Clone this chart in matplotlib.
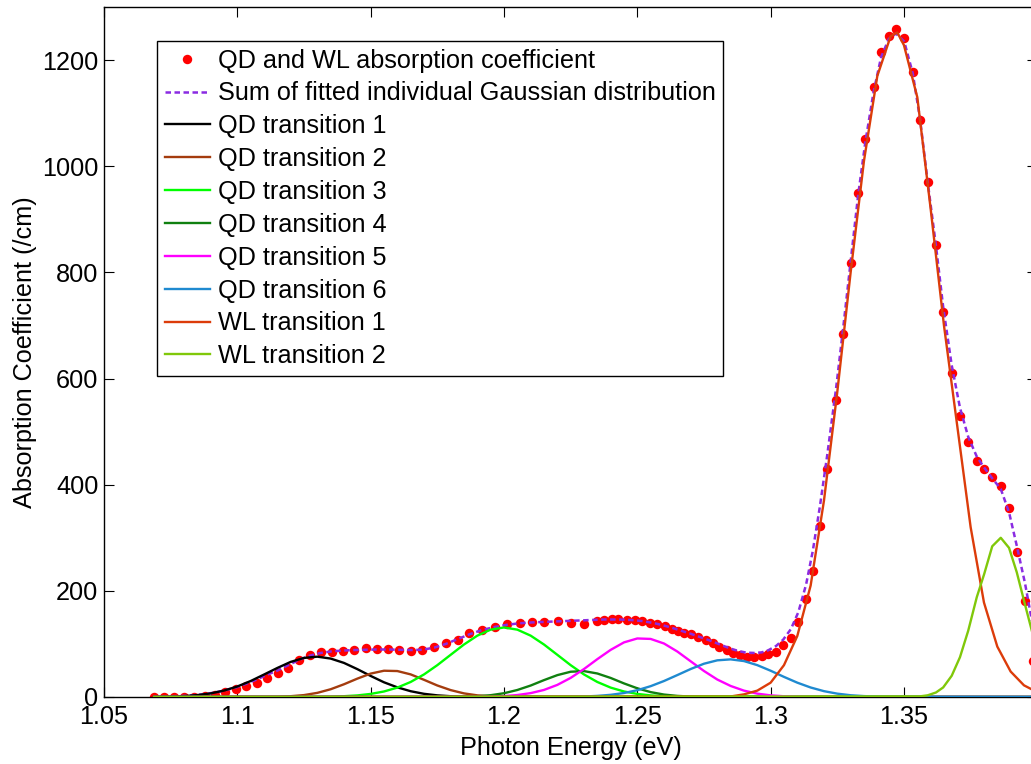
import matplotlib
matplotlib.use("Agg")
import matplotlib.pyplot as plt
from matplotlib.ticker import FuncFormatter

plt.rcParams['font.family'] = ['Liberation Sans', 'DejaVu Sans']

# Measured absorption spectrum (photon energy in eV, absorption in /cm)
energy = [1.0688, 1.0725, 1.0763, 1.0800, 1.0838, 1.0879, 1.0916, 1.0954, 1.0994, 1.1033,
          1.1073, 1.1112, 1.1151, 1.1191, 1.1232, 1.1273, 1.1313, 1.1354, 1.1395, 1.1438,
          1.1481, 1.1523, 1.1566, 1.1607, 1.1650, 1.1694, 1.1738, 1.1782, 1.1826, 1.1870,
          1.1916, 1.1966, 1.2010, 1.2060, 1.2104, 1.2150, 1.2201, 1.2250, 1.2300, 1.2348,
          1.2375, 1.2404, 1.2429, 1.2460, 1.2491, 1.2519, 1.2548, 1.2573, 1.2604, 1.2629,
          1.2654, 1.2676, 1.2701, 1.2729, 1.2758, 1.2785, 1.2807, 1.2835, 1.2860, 1.2885,
          1.2910, 1.2938, 1.2966, 1.2991, 1.3020, 1.3047, 1.3076, 1.3104, 1.3133, 1.3158,
          1.3185, 1.3212, 1.3245, 1.3272, 1.3300, 1.3328, 1.3355, 1.3386, 1.3414, 1.3443,
          1.3470, 1.3501, 1.3533, 1.3560, 1.3589, 1.3620, 1.3647, 1.3679, 1.3710, 1.3741,
          1.3773, 1.3801, 1.3831, 1.3863, 1.3894, 1.3923, 1.3954, 1.3983]

absorption = [0, 0, 0, 0, 0.5, 1, 4, 9, 16, 20,
              26, 35, 45, 55, 69, 79, 85, 85, 87, 88,
              92, 91, 91, 89, 87, 88, 94, 101, 108, 120,
              126, 131, 137, 138.5, 141.5, 141, 143, 140, 137, 143,
              146, 147, 147, 146, 145, 143, 140, 137, 133, 129,
              124.5, 121.5, 118, 113, 108, 102, 94, 89, 83, 79,
              75.5, 75.5, 77, 81, 85, 98, 112, 141, 184, 237,
              323, 429, 560, 684, 818, 950, 1052, 1149, 1215, 1245,
              1258, 1242, 1177, 1088, 970, 852, 725, 611, 530, 481,
              445, 429, 415, 398, 356, 273, 181, 67]

# Sum of the fitted Gaussian components, evaluated at the measured energies
fit_sum = [0.5, 1, 1.5, 2, 3.5, 5.5, 8.5, 12.5, 18, 25,
           33, 42, 50, 60, 70, 78, 83, 86, 87.5, 88.5,
           89, 89.5, 89.5, 89, 88.5, 89, 93, 100, 109, 118,
           126, 132, 136, 139, 140.5, 141.5, 142.5, 143.5, 144.5, 145.5,
           146, 146, 146, 145.5, 144.5, 143, 140.5, 138, 134, 130.5,
           126.5, 123, 119, 114, 109, 104, 99.5, 94, 89.5, 86,
           83.5, 83, 84, 88, 96, 108, 128, 160, 212, 275,
           360, 455, 580, 695, 820, 945, 1045, 1140, 1205, 1240,
           1250, 1235, 1175, 1090, 970, 850, 735, 625, 545, 490,
           453, 432, 412, 392, 348, 285, 214, 135]

# Individual fitted transitions
qd1_e = [1.0688, 1.070, 1.075, 1.080, 1.085, 1.090, 1.095, 1.100, 1.105, 1.110, 1.115,
         1.120, 1.125, 1.130, 1.135, 1.140, 1.145, 1.150, 1.155, 1.160, 1.165, 1.170,
         1.175, 1.180, 1.185, 1.190, 1.400]
qd1_v = [0.2, 0.3, 0.8, 1.7, 3.6, 6.8, 12.1, 19.8, 30.1, 42.3, 54.7,
         66.1, 73.6, 76, 72.4, 64.2, 52.5, 39.7, 27.7, 18.2, 10.9, 6.0,
         3.1, 1.5, 0.7, 0.3, 0]

qd2_e = [1.0688, 1.115, 1.120, 1.125, 1.130, 1.135, 1.140, 1.145, 1.150, 1.155, 1.160,
         1.165, 1.170, 1.175, 1.180, 1.185, 1.190, 1.195, 1.200, 1.400]
qd2_v = [0, 0.6, 1.5, 3.6, 7.8, 14.6, 24, 34.6, 44.1, 49.5, 48.9,
         42.6, 32.4, 21.7, 13, 6.8, 3.1, 1.3, 0.5, 0]

qd3_e = [1.0688, 1.130, 1.135, 1.140, 1.145, 1.150, 1.155, 1.160, 1.165, 1.170, 1.175,
         1.180, 1.185, 1.190, 1.195, 1.200, 1.205, 1.210, 1.215, 1.220, 1.225, 1.230,
         1.235, 1.240, 1.245, 1.250, 1.255, 1.260, 1.265, 1.270, 1.400]
qd3_v = [0, 0.3, 0.7, 1.5, 3.0, 5.8, 10.4, 17.7, 28.3, 42.5, 60,
         79.5, 98.9, 115.6, 126.9, 131, 126.9, 115.6, 98.9, 79.5, 60, 42.5,
         28.3, 17.7, 10.4, 5.8, 3.0, 1.5, 0.7, 0.3, 0]

qd4_e = [1.0688, 1.180, 1.185, 1.190, 1.195, 1.200, 1.205, 1.210, 1.215, 1.220, 1.225,
         1.230, 1.235, 1.240, 1.245, 1.250, 1.255, 1.260, 1.265, 1.270, 1.275, 1.400]
qd4_v = [0, 0.2, 0.5, 1.4, 3.4, 7.1, 13.2, 21.6, 31.8, 41.2, 47.6,
         48.8, 44.3, 35.9, 25.6, 16.4, 9.2, 4.6, 2.1, 0.8, 0.3, 0]

qd5_e = [1.0688, 1.190, 1.195, 1.200, 1.205, 1.210, 1.215, 1.220, 1.225, 1.230, 1.235,
         1.240, 1.245, 1.250, 1.255, 1.260, 1.265, 1.270, 1.275, 1.280, 1.285, 1.290,
         1.295, 1.300, 1.305, 1.310, 1.315, 1.400]
qd5_v = [0, 0.3, 0.7, 1.7, 3.7, 7.3, 13.3, 22.8, 36, 52.7, 71.3,
         88.8, 102.9, 110.3, 109.4, 100.8, 85.7, 67.3, 49, 32.9, 20.8, 12,
         6.3, 3.1, 1.4, 0.6, 0.2, 0]

qd6_e = [1.0688, 1.220, 1.225, 1.230, 1.235, 1.240, 1.245, 1.250, 1.255, 1.260, 1.265,
         1.270, 1.275, 1.280, 1.285, 1.290, 1.295, 1.300, 1.305, 1.310, 1.315, 1.320,
         1.325, 1.330, 1.335, 1.340, 1.345, 1.400]
qd6_v = [0, 0.2, 0.4, 0.9, 2.1, 4.1, 7.5, 12.8, 20.4, 30.1, 41.3,
         52.7, 62.7, 69.1, 70.9, 67.7, 60, 49.5, 37.9, 27, 17.9, 11,
         6.3, 3.3, 1.7, 0.8, 0.3, 0]

wl1_e = [1.0688, 1.285, 1.290, 1.295, 1.300, 1.305, 1.310, 1.315, 1.320, 1.325, 1.330,
         1.335, 1.340, 1.345, 1.3475, 1.350, 1.355, 1.360, 1.365, 1.370, 1.375, 1.380,
         1.385, 1.390, 1.395, 1.400]
wl1_v = [0, 1, 5, 12, 27, 60, 115, 210, 370, 575, 800,
         1010, 1170, 1245, 1252, 1228, 1130, 920, 700, 510, 320, 178,
         95, 48, 22, 9]

wl2_e = [1.0688, 1.3560, 1.3589, 1.3620, 1.3647, 1.3679, 1.3710, 1.3741, 1.3773, 1.3801,
         1.3831, 1.3863, 1.3894, 1.3923, 1.3954, 1.3983, 1.4012]
wl2_v = [0, 1.2, 3.2, 8.5, 18, 40, 75, 125, 188, 232,
         284, 300, 281, 235, 174, 118, 72]

components = [
    ("QD transition 1", qd1_e, qd1_v, "#000000"),
    ("QD transition 2", qd2_e, qd2_v, "#a43c0e"),
    ("QD transition 3", qd3_e, qd3_v, "#00ff00"),
    ("QD transition 4", qd4_e, qd4_v, "#108010"),
    ("QD transition 5", qd5_e, qd5_v, "#ff00ff"),
    ("QD transition 6", qd6_e, qd6_v, "#1f8ad0"),
    ("WL transition 1", wl1_e, wl1_v, "#dc3c0a"),
    ("WL transition 2", wl2_e, wl2_v, "#80c80a"),
]

x_ticks = [1.05, 1.1, 1.15, 1.2, 1.25, 1.3, 1.35]
y_ticks = [0, 200, 400, 600, 800, 1000, 1200]

FS = 18.2
W, H = 1031, 764
fig = plt.figure(figsize=(W / 100, H / 100), dpi=100)
ax = fig.add_axes([104 / W, 67 / H, 933.3 / W, 690 / H])

ax.plot(energy, absorption, linestyle="none", marker="o", markersize=6.8,
        color="#ff0000", markeredgewidth=0, label="QD and WL absorption coefficient", zorder=2)
ax.plot(energy, fit_sum, color="#8a2be2", linewidth=1.8, dashes=(2.2, 1.4),
        label="Sum of fitted individual Gaussian distribution", zorder=3)
for name, xs, ys, col in components:
    ax.plot(xs, ys, color=col, linewidth=1.7, label=name, zorder=3)

ax.set_xlim(1.05, 1.4)
ax.set_ylim(0, 1300)
ax.set_xticks(x_ticks)
ax.set_yticks(y_ticks)
ax.xaxis.set_major_formatter(FuncFormatter(lambda v, p: f"{v:g}"))
ax.yaxis.set_major_formatter(FuncFormatter(lambda v, p: f"{v:g}"))
ax.tick_params(direction="in", top=True, right=True, length=7, width=0.8,
               labelsize=FS, colors="black")
ax.tick_params(axis="x", pad=5.5)
ax.tick_params(axis="y", pad=4)
for sp in ax.spines.values():
    sp.set_linewidth(1.0)

ax.set_xlabel("Photon Energy (eV)", fontsize=FS, labelpad=5)
ax.set_ylabel("Absorption Coefficient (/cm)", fontsize=FS, labelpad=4)

leg = ax.legend(loc="upper left", bbox_to_anchor=(157 / W, 1 - 41 / H),
                bbox_transform=fig.transFigure, fontsize=FS, frameon=True,
                fancybox=False, edgecolor="black", framealpha=1, borderpad=0.3,
                labelspacing=0.35, handlelength=1.8, handletextpad=0.3,
                borderaxespad=0)
leg.get_frame().set_linewidth(1.0)

fig.savefig("out.png", dpi=100)
